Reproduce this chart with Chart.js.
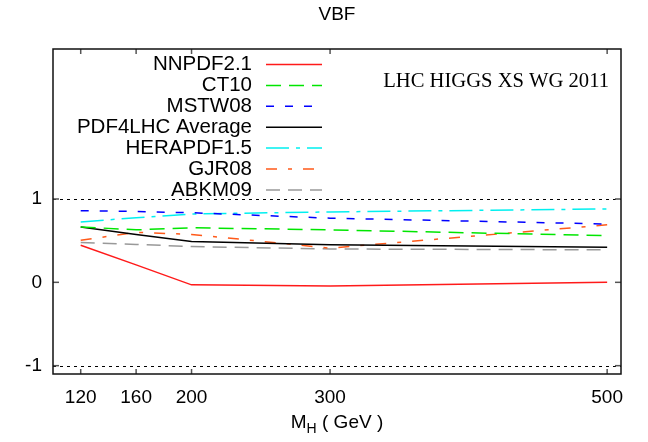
<!DOCTYPE html>
<html>
<head>
<meta charset="utf-8">
<script src="https://cdn.jsdelivr.net/npm/chart.js@4.4.0/dist/chart.umd.min.js"></script>
<style>
  body { margin: 0; background: #fff; }
</style>
</head>
<body>
<canvas id="myChart" width="648" height="442"></canvas>
<script>
var massPoints = [120, 160, 200, 300, 500];
var xTicks = [120, 160, 200, 300, 500];
var yTicks = [-1, 0, 1];
var refLines = [-1, 1];

var nnpdf   = [0.445, 0.21, -0.03, -0.045, 0.0];
var ct10    = [0.665, 0.63, 0.655, 0.63, 0.56];
var mstw    = [0.86, 0.85, 0.835, 0.77, 0.70];
var pdf4lhc = [0.665, 0.575, 0.49, 0.45, 0.42];
var hera    = [0.725, 0.775, 0.82, 0.845, 0.88];
var gjr     = [0.505, 0.60, 0.575, 0.41, 0.69];
var abkm    = [0.477, 0.455, 0.43, 0.40, 0.39];

var sans = '"Liberation Sans", Arial, sans-serif';
var serif = '"Liberation Serif", "Times New Roman", serif';

function series(label, values, color, dash) {
  return {
    label: label,
    data: values.map(function (v, i) { return { x: massPoints[i], y: v }; }),
    borderColor: color,
    borderDash: dash,
    borderWidth: 1.5,
    pointRadius: 0,
    fill: false,
    tension: 0
  };
}

// frame, inner ticks, reference lines, legend and labels
var decorations = {
  id: 'decorations',
  beforeDatasetsDraw: function (chart) {
    var c = chart.ctx, a = chart.chartArea, y = chart.scales.y;
    c.save();
    c.strokeStyle = '#000';
    c.lineWidth = 1;
    c.setLineDash([3, 4]);
    refLines.forEach(function (v) {
      var py = Math.round(y.getPixelForValue(v)) + 0.5;
      c.beginPath(); c.moveTo(a.left, py); c.lineTo(a.right, py); c.stroke();
    });
    c.restore();
  },
  afterDatasetsDraw: function (chart) {
    var c = chart.ctx, a = chart.chartArea, x = chart.scales.x, y = chart.scales.y;
    c.save();
    // inner ticks
    c.strokeStyle = '#555';
    c.lineWidth = 1.5;
    xTicks.forEach(function (v) {
      var px = x.getPixelForValue(v);
      c.beginPath(); c.moveTo(px, a.bottom); c.lineTo(px, a.bottom - 5); c.stroke();
      c.beginPath(); c.moveTo(px, a.top); c.lineTo(px, a.top + 5); c.stroke();
    });
    yTicks.forEach(function (v) {
      var py = y.getPixelForValue(v);
      c.beginPath(); c.moveTo(a.left, py); c.lineTo(a.left + 6, py); c.stroke();
      c.beginPath(); c.moveTo(a.right, py); c.lineTo(a.right - 6, py); c.stroke();
    });
    // frame
    c.strokeStyle = '#111';
    c.lineWidth = 1.5;
    c.strokeRect(a.left, a.top, a.right - a.left, a.bottom - a.top);

    // legend
    c.font = '20.5px ' + sans;
    c.textAlign = 'right';
    c.textBaseline = 'middle';
    chart.data.datasets.forEach(function (ds, i) {
      var ly = 64.5 + i * 20.9;
      c.fillStyle = '#000';
      c.fillText(ds.label, 252, ly);
      c.strokeStyle = ds.borderColor;
      c.lineWidth = 1.5;
      c.setLineDash(ds.borderDash || []);
      c.beginPath(); c.moveTo(266, ly); c.lineTo(322, ly); c.stroke();
      c.setLineDash([]);
    });

    // watermark
    c.font = '20.6px ' + serif;
    c.textAlign = 'right';
    c.fillStyle = '#000';
    c.fillText('LHC HIGGS XS WG 2011', 609, 82);

    // x axis title with subscript
    var cx = (a.left + a.right) / 2, by = 428;
    c.font = '19px ' + sans;
    var w1 = c.measureText('M').width;
    var w3 = c.measureText(' ( GeV )').width;
    c.font = '14px ' + sans;
    var w2 = c.measureText('H').width;
    var sx = cx - (w1 + w2 + w3) / 2;
    c.textAlign = 'left';
    c.textBaseline = 'alphabetic';
    c.font = '19px ' + sans;
    c.fillText('M', sx, by);
    c.font = '14px ' + sans;
    c.fillText('H', sx + w1, by + 5);
    c.font = '19px ' + sans;
    c.fillText(' ( GeV )', sx + w1 + w2, by);
    c.restore();
  }
};

var ctx = document.getElementById('myChart').getContext('2d');
var myChart = new Chart(ctx, {
  type: 'line',
  data: {
    datasets: [
      series('NNPDF2.1', nnpdf, '#ff1a1a', []),
      series('CT10', ct10, '#00e600', [15, 8]),
      series('MSTW08', mstw, '#0000ff', [8, 11]),
      series('PDF4LHC Average', pdf4lhc, '#000000', []),
      series('HERAPDF1.5', hera, '#00f0f0', [23, 7, 4, 7]),
      series('GJR08', gjr, '#ff5a1a', [11, 11, 4, 11]),
      series('ABKM09', abkm, '#999999', [14, 8])
    ]
  },
  options: {
    responsive: false,
    animation: false,
    layout: { padding: { left: 0, right: 27, top: 0, bottom: 0 } },
    plugins: {
      legend: { display: false },
      tooltip: { enabled: false },
      title: {
        display: true,
        text: 'VBF',
        fullSize: false,
        color: '#000',
        font: { family: sans, size: 19, weight: 'normal' },
        padding: { top: 3, bottom: 23.2 }
      }
    },
    scales: {
      x: {
        type: 'linear',
        min: 100,
        max: 510,
        afterBuildTicks: function (axis) { axis.ticks = xTicks.map(function (v) { return { value: v }; }); },
        afterFit: function (axis) { axis.height = 68; },
        grid: { display: false, drawTicks: false },
        border: { display: false },
        ticks: { color: '#000', padding: 12, maxRotation: 0, autoSkip: false, font: { family: sans, size: 19 } }
      },
      y: {
        min: -1.1,
        max: 2.8,
        afterBuildTicks: function (axis) { axis.ticks = yTicks.map(function (v) { return { value: v }; }); },
        afterFit: function (axis) { axis.width = 53; },
        grid: { display: false, drawTicks: false },
        border: { display: false },
        ticks: { color: '#000', padding: 11, font: { family: sans, size: 19 } }
      }
    }
  },
  plugins: [decorations]
});
</script>
</body>
</html>
